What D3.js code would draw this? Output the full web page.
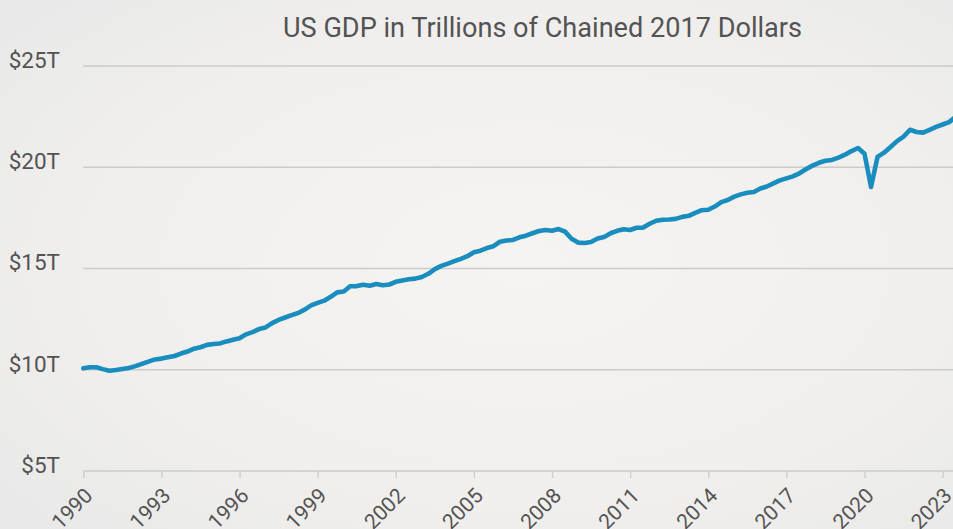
<!DOCTYPE html>
<html>
<head>
<meta charset="utf-8">
<script src="https://cdn.jsdelivr.net/npm/d3@7"></script>
<style>
  html, body { margin: 0; padding: 0; overflow: hidden; }
  body { width: 953px; height: 529px; }
  svg { display: block; }
</style>
</head>
<body>
<svg id="chart" width="953" height="529"></svg>
<script>
// Real GDP, trillions of chained 2017 dollars, quarterly (Q1..Q4 per year)
const years = [1990, 1991, 1992, 1993, 1994, 1995, 1996, 1997, 1998, 1999,
               2000, 2001, 2002, 2003, 2004, 2005, 2006, 2007, 2008, 2009,
               2010, 2011, 2012, 2013, 2014, 2015, 2016, 2017, 2018, 2019,
               2020, 2021, 2022, 2023];
const gdpByYear = [
  [10.07, 10.12, 10.12, 10.03],
  [9.95, 9.99, 10.04, 10.09],
  [10.18, 10.29, 10.40, 10.51],
  [10.55, 10.62, 10.68, 10.80],
  [10.90, 11.04, 11.11, 11.23],
  [11.27, 11.30, 11.40, 11.48],
  [11.56, 11.75, 11.86, 12.01],
  [12.09, 12.30, 12.46, 12.58],
  [12.70, 12.80, 12.97, 13.18],
  [13.30, 13.41, 13.60, 13.82],
  [13.86, 14.12, 14.13, 14.20],
  [14.15, 14.23, 14.17, 14.21],
  [14.34, 14.41, 14.47, 14.50],
  [14.58, 14.74, 14.97, 15.13],
  [15.24, 15.36, 15.48, 15.61],
  [15.80, 15.88, 16.01, 16.10],
  [16.32, 16.38, 16.41, 16.54],
  [16.62, 16.74, 16.85, 16.90],
  [16.86, 16.95, 16.82, 16.47],
  [16.28, 16.26, 16.31, 16.48],
  [16.56, 16.74, 16.86, 16.94],
  [16.90, 17.01, 17.02, 17.21],
  [17.36, 17.41, 17.42, 17.45],
  [17.55, 17.60, 17.75, 17.88],
  [17.90, 18.06, 18.28, 18.38],
  [18.55, 18.66, 18.74, 18.78],
  [18.95, 19.05, 19.20, 19.35],
  [19.45, 19.55, 19.70, 19.90],
  [20.08, 20.22, 20.32, 20.36],
  [20.48, 20.62, 20.80, 20.95],
  [20.67, 19.03, 20.51, 20.72],
  [21.00, 21.29, 21.51, 21.85],
  [21.74, 21.71, 21.85, 21.99],
  [22.11, 22.23, 22.49]
];
const yTicks = [5, 10, 15, 20, 25];
const xTicks = [1990, 1993, 1996, 1999, 2002, 2005, 2008, 2011, 2014, 2017, 2020, 2023];
const titleText = "US GDP in Trillions of Chained 2017 Dollars";

// flatten to {t, v}, t = year + quarter offset
const series = [];
years.forEach((yr, i) => {
  gdpByYear[i].forEach((v, q) => series.push({ t: yr + q / 4, v }));
});

const W = 953, H = 529;
const svg = d3.select("#chart");

// soft backdrop
const defs = svg.append("defs");
const grad = defs.append("radialGradient")
  .attr("id", "bg").attr("cx", "55%").attr("cy", "50%").attr("r", "75%");
grad.append("stop").attr("offset", "0%").attr("stop-color", "#f6f4f1");
grad.append("stop").attr("offset", "60%").attr("stop-color", "#f0efed");
grad.append("stop").attr("offset", "100%").attr("stop-color", "#e8e8e8");
svg.append("rect").attr("width", W).attr("height", H).attr("fill", "url(#bg)");

const x = d3.scaleLinear().domain([1990, 2023.5]).range([83.3, 83.3 + 33.5 * 26.04]);
const y = d3.scaleLinear().domain([5, 25]).range([471, 66]);

const textColor = "#535353";
const font = "Roboto, 'DejaVu Sans', sans-serif";

// horizontal grid
svg.append("g")
  .selectAll("line")
  .data(yTicks)
  .join("line")
  .attr("x1", x(1990)).attr("x2", W)
  .attr("y1", d => y(d)).attr("y2", d => y(d))
  .attr("stroke", "#cbcbcb").attr("stroke-width", 1.5);

// y labels
svg.append("g")
  .selectAll("text")
  .data(yTicks)
  .join("text")
  .attr("x", 60).attr("y", d => y(d) - 4)
  .attr("text-anchor", "end")
  .attr("dominant-baseline", "middle")
  .attr("font-family", font).attr("font-size", 22.5)
  .attr("fill", textColor)
  .text(d => "$" + d + "T");

// x axis ticks + rotated labels
const xAxis = d3.axisBottom(x)
  .tickValues(xTicks)
  .tickFormat(d3.format("d"))
  .tickSize(7)
  .tickPadding(4);
const gx = svg.append("g").attr("transform", `translate(0,${y(5)})`).call(xAxis);
gx.select(".domain").remove();
gx.selectAll(".tick line").attr("stroke", "#cfcfcf").attr("stroke-width", 1.5);
gx.selectAll(".tick text")
  .attr("font-family", font).attr("font-size", 21)
  .attr("fill", textColor)
  .attr("text-anchor", "end")
  .attr("dy", null)
  .attr("transform", "translate(10,26) rotate(-45)")
  .attr("y", 0).attr("x", 0);

// GDP line
const line = d3.line()
  .x(d => x(d.t))
  .y(d => y(d.v))
  .curve(d3.curveLinear);
svg.append("path")
  .datum(series)
  .attr("d", line)
  .attr("fill", "none")
  .attr("stroke", "#1a8dbf")
  .attr("stroke-width", 4.6)
  .attr("stroke-linejoin", "round")
  .attr("stroke-linecap", "round");

// title
const title = svg.append("text")
  .attr("x", 542.5).attr("y", 37)
  .attr("text-anchor", "middle")
  .attr("font-family", font).attr("font-size", 27.5)
  .attr("fill", textColor)
  .text(titleText);
const tw = title.node().getComputedTextLength();
if (tw > 519) title.attr("textLength", 519).attr("lengthAdjust", "spacingAndGlyphs");
</script>
</body>
</html>
